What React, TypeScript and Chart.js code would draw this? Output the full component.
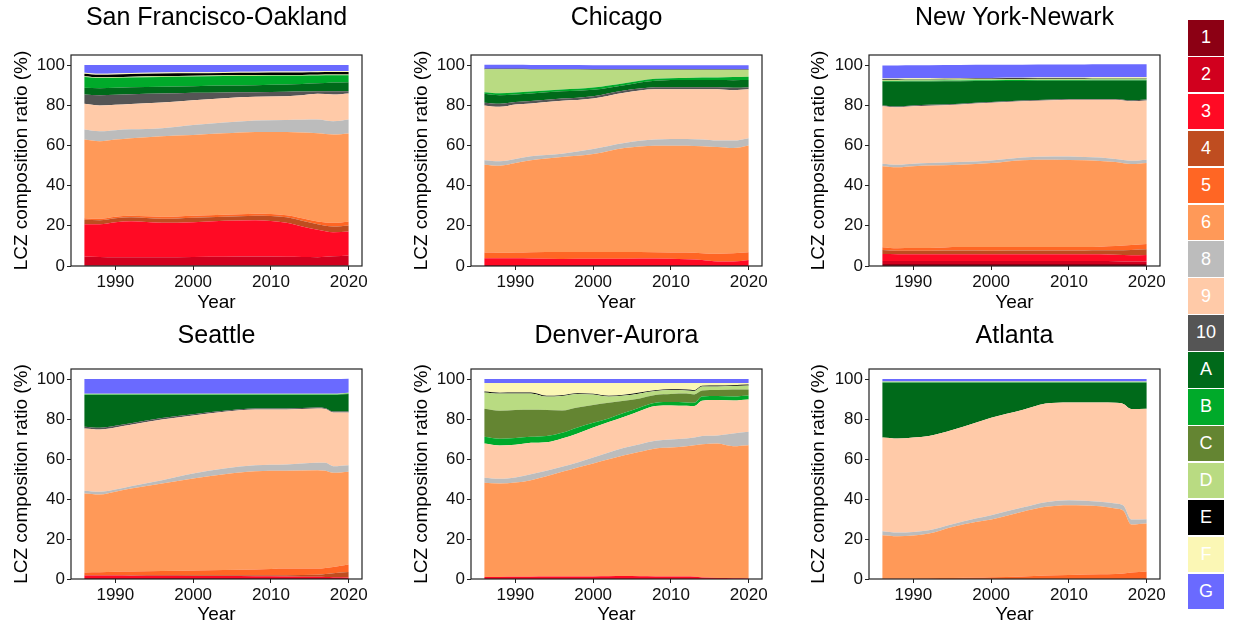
import React, { useEffect, useRef } from 'react';
import { Chart, registerables } from 'chart.js';

Chart.register(...registerables);

// ---------- LCZ classes ----------
const LCZ_LABELS = ['1', '2', '3', '4', '5', '6', '8', '9', '10', 'A', 'B', 'C', 'D', 'E', 'F', 'G'];
const LCZ_COLORS = ['#8c0014', '#d1001e', '#ff0a24', '#bf4d20', '#ff6624', '#ff9958', '#bcbcbc', '#ffcaa8', '#555555', '#006a1a', '#00aa2a', '#648532', '#b9db82', '#000000', '#fbf7b5', '#6a6aff'];
const X_TICKS = [1990, 2000, 2010, 2020];
const Y_TICKS = [0, 20, 40, 60, 80, 100];

// ---------- San Francisco-Oakland ----------
const SF_YEARS = [1986, 1988, 1990, 1992, 1996, 2000, 2004, 2008, 2012, 2014, 2016, 2018, 2020];
const SF_1 = [0.3, 0.3, 0.3, 0.3, 0.3, 0.3, 0.3, 0.3, 0.3, 0.3, 0.3, 0.3, 0.3];
const SF_2 = [4.4, 4.2, 4.0, 4.0, 4.0, 4.2, 4.3, 4.4, 4.3, 4.2, 4.1, 4.5, 4.9];
const SF_3 = [16.1, 16.3, 17.5, 18.0, 17.2, 17.3, 17.9, 18.1, 16.9, 15.2, 13.6, 12.0, 12.0];
const SF_4 = [2.2, 2.0, 2.0, 2.0, 2.0, 2.2, 2.0, 2.2, 2.7, 2.8, 2.8, 2.9, 3.0];
const SF_5 = [0.8, 0.7, 0.7, 0.7, 1.0, 1.0, 1.0, 1.0, 1.1, 1.3, 1.4, 1.8, 2.0];
const SF_6 = [39.1, 38.6, 38.4, 38.6, 40.1, 40.2, 40.5, 40.7, 41.4, 42.6, 43.8, 43.9, 43.7];
const SF_8 = [5.0, 4.9, 4.7, 4.4, 4.0, 5.0, 5.4, 5.7, 6.0, 6.4, 6.9, 6.6, 7.0];
const SF_9 = [12.8, 12.9, 12.6, 12.6, 12.8, 12.3, 12.1, 11.8, 11.8, 12.2, 12.8, 13.4, 13.0];
const SF_10 = [4.7, 5.1, 5.0, 4.9, 4.4, 3.7, 2.9, 2.3, 2.2, 1.8, 1.3, 1.6, 1.1];
const SF_A = [3.3, 3.5, 3.5, 3.4, 3.4, 3.3, 3.4, 3.5, 3.6, 3.8, 3.9, 4.3, 4.5];
const SF_B = [5.3, 5.0, 4.9, 4.9, 4.9, 4.8, 4.7, 4.6, 4.4, 4.1, 3.9, 3.6, 3.4];
const SF_D = [0.4, 0.4, 0.4, 0.4, 0.4, 0.4, 0.4, 0.4, 0.4, 0.4, 0.4, 0.4, 0.4];
const SF_E = [1.3, 1.3, 1.3, 1.3, 1.3, 1.2, 1.2, 1.2, 1.2, 1.2, 1.2, 1.2, 1.2];
const SF_F = [0.5, 0.5, 0.5, 0.5, 0.5, 0.5, 0.5, 0.5, 0.5, 0.5, 0.5, 0.5, 0.5];
const SF_G = [3.8, 4.3, 4.2, 4.0, 3.7, 3.6, 3.4, 3.3, 3.2, 3.2, 3.1, 3.0, 3.0];

// ---------- Chicago ----------
const CHI_YEARS = [1986, 1988, 1990, 1992, 1996, 2000, 2004, 2008, 2012, 2014, 2016, 2018, 2020];
const CHI_2 = [0.5, 0.5, 0.5, 0.5, 0.5, 0.5, 0.5, 0.5, 0.5, 0.5, 0.5, 0.5, 0.5];
const CHI_3 = [3.3, 3.3, 3.3, 3.2, 3.0, 3.1, 3.1, 3.2, 2.9, 2.5, 1.8, 1.8, 2.5];
const CHI_5 = [2.9, 2.8, 2.9, 3.2, 3.5, 3.4, 3.4, 3.2, 3.3, 3.4, 3.8, 4.0, 3.8];
const CHI_6 = [43.7, 43.3, 44.5, 45.7, 47.2, 48.7, 51.7, 53.0, 53.2, 53.2, 53.1, 52.4, 53.2];
const CHI_8 = [2.2, 2.2, 2.0, 2.0, 1.7, 2.5, 2.5, 3.0, 3.3, 3.3, 3.2, 3.7, 3.6];
const CHI_9 = [27.3, 27.1, 27.2, 26.3, 26.3, 25.2, 25.0, 25.0, 24.7, 25.0, 25.5, 25.1, 24.3];
const CHI_10 = [1.4, 1.5, 1.2, 1.2, 1.1, 1.1, 1.1, 1.0, 1.1, 1.1, 1.1, 1.2, 1.1];
const CHI_A = [4.4, 4.3, 3.8, 3.8, 3.6, 3.2, 2.7, 3.3, 3.5, 3.5, 3.5, 3.7, 3.5];
const CHI_B = [0.8, 1.0, 0.9, 0.9, 0.9, 1.1, 1.0, 1.0, 1.1, 1.3, 1.3, 1.6, 1.7];
const CHI_D = [11.4, 11.9, 11.6, 11.0, 10.0, 8.9, 6.7, 4.5, 4.1, 3.9, 3.9, 3.7, 3.5];
const CHI_E = [0.2, 0.2, 0.2, 0.2, 0.2, 0.2, 0.2, 0.2, 0.2, 0.2, 0.2, 0.2, 0.2];
const CHI_G = [2.0, 2.0, 2.0, 2.0, 2.0, 2.0, 2.0, 2.0, 2.0, 2.0, 2.0, 2.0, 2.0];

// ---------- New York-Newark ----------
const NY_YEARS = [1986, 1988, 1990, 1992, 1996, 2000, 2004, 2008, 2012, 2014, 2016, 2018, 2020];
const NY_1 = [1.0, 1.0, 1.0, 1.0, 1.0, 1.0, 1.0, 1.0, 1.0, 1.0, 1.0, 1.0, 1.0];
const NY_2 = [1.5, 1.5, 1.5, 1.5, 1.5, 1.5, 1.5, 1.5, 1.5, 1.5, 1.4, 1.2, 1.2];
const NY_3 = [3.5, 3.4, 3.4, 3.3, 3.3, 3.3, 3.4, 3.4, 3.4, 3.3, 3.2, 3.2, 3.3];
const NY_4 = [1.9, 1.7, 1.7, 1.8, 1.9, 1.8, 1.8, 1.8, 1.8, 2.0, 2.2, 2.6, 2.8];
const NY_5 = [1.4, 1.2, 1.3, 1.4, 1.8, 1.9, 1.7, 1.7, 1.7, 1.8, 2.1, 2.4, 2.7];
const NY_6 = [40.3, 40.3, 40.7, 41.0, 40.9, 41.7, 43.2, 43.5, 43.2, 42.7, 41.8, 40.3, 40.2];
const NY_8 = [1.3, 1.3, 1.3, 1.3, 1.3, 1.3, 1.4, 1.6, 1.7, 1.7, 1.6, 1.7, 1.7];
const NY_9 = [28.6, 28.6, 28.6, 28.5, 28.7, 28.7, 28.0, 28.0, 28.4, 28.7, 29.4, 29.6, 29.5];
const NY_10 = [0.4, 0.4, 0.4, 0.4, 0.4, 0.4, 0.4, 0.4, 0.4, 0.4, 0.4, 0.4, 0.4];
const NY_A = [11.8, 12.3, 11.9, 11.6, 11.1, 10.4, 9.7, 9.3, 9.1, 9.2, 9.2, 9.9, 9.5];
const NY_B = [0.4, 0.4, 0.4, 0.4, 0.4, 0.4, 0.4, 0.4, 0.4, 0.4, 0.4, 0.4, 0.4];
const NY_D = [0.6, 0.6, 0.6, 0.6, 0.6, 0.6, 0.6, 0.6, 0.6, 0.6, 0.6, 0.6, 0.6];
const NY_E = [0.3, 0.3, 0.3, 0.3, 0.3, 0.3, 0.3, 0.3, 0.3, 0.3, 0.3, 0.3, 0.3];
const NY_F = [0.3, 0.3, 0.3, 0.3, 0.3, 0.3, 0.3, 0.3, 0.3, 0.3, 0.3, 0.3, 0.3];
const NY_G = [6.5, 6.5, 6.5, 6.5, 6.5, 6.5, 6.5, 6.5, 6.5, 6.5, 6.5, 6.5, 6.5];

// ---------- Seattle ----------
const SEA_YEARS = [1986, 1988, 1990, 1992, 1996, 2000, 2004, 2008, 2012, 2016, 2017, 2018, 2020];
const SEA_2 = [0.5, 0.5, 0.5, 0.5, 0.5, 0.5, 0.5, 0.5, 0.5, 0.5, 0.5, 0.5, 0.5];
const SEA_3 = [1.2, 1.2, 1.2, 1.1, 1.1, 1.0, 1.0, 0.9, 0.8, 0.6, 0.5, 0.4, 0.3];
const SEA_4 = [0.3, 0.3, 0.3, 0.3, 0.4, 0.4, 0.4, 0.5, 0.6, 1.0, 1.5, 2.0, 2.7];
const SEA_5 = [1.3, 1.4, 1.6, 1.8, 2.0, 2.4, 2.6, 2.8, 3.3, 3.1, 3.0, 3.1, 3.7];
const SEA_6 = [39.4, 38.8, 40.0, 41.5, 43.7, 46.0, 47.9, 49.2, 48.9, 49.2, 48.6, 47.1, 46.4];
const SEA_8 = [1.4, 1.4, 1.1, 1.2, 1.7, 2.5, 2.9, 3.0, 3.2, 3.7, 4.0, 3.3, 3.3];
const SEA_9 = [31.2, 31.2, 31.1, 30.7, 30.4, 29.0, 28.3, 27.9, 27.5, 27.2, 26.9, 26.9, 26.4];
const SEA_10 = [0.8, 0.8, 0.8, 0.8, 0.7, 0.6, 0.5, 0.5, 0.5, 0.4, 0.4, 0.4, 0.4];
const SEA_A = [15.9, 16.4, 15.4, 14.1, 11.5, 9.6, 7.9, 6.7, 6.7, 6.3, 6.6, 8.3, 8.8];
const SEA_B = [0.2, 0.2, 0.2, 0.2, 0.2, 0.2, 0.2, 0.2, 0.2, 0.2, 0.2, 0.2, 0.2];
const SEA_D = [0.4, 0.4, 0.4, 0.4, 0.4, 0.4, 0.4, 0.4, 0.4, 0.4, 0.4, 0.4, 0.4];
const SEA_G = [7.4, 7.4, 7.4, 7.4, 7.4, 7.4, 7.4, 7.4, 7.4, 7.4, 7.4, 7.4, 7.0];

// ---------- Denver-Aurora ----------
const DEN_YEARS = [1986, 1988, 1990, 1992, 1994, 1996, 1998, 2000, 2002, 2004, 2006, 2008, 2010, 2012, 2013, 2014, 2016, 2018, 2020];
const DEN_3 = [1.0, 1.0, 1.1, 1.1, 1.2, 1.2, 1.3, 1.3, 1.4, 1.5, 1.4, 1.3, 1.3, 1.2, 1.1, 0.8, 0.5, 0.4, 0.3];
const DEN_6 = [47.1, 46.7, 47.1, 48.3, 50.2, 52.4, 54.5, 56.5, 58.5, 60.4, 62.2, 64.0, 64.5, 65.2, 65.8, 66.6, 67.3, 66.0, 66.6];
const DEN_8 = [2.5, 2.4, 2.6, 3.0, 2.7, 2.5, 2.5, 3.0, 3.4, 3.7, 3.8, 3.8, 4.0, 3.9, 3.9, 4.1, 4.0, 6.4, 6.7];
const DEN_9 = [17.2, 16.7, 16.3, 15.7, 14.3, 14.2, 14.5, 15.0, 15.2, 15.5, 16.6, 17.4, 17.0, 16.3, 15.7, 17.6, 17.7, 16.5, 16.2];
const DEN_B = [3.3, 3.3, 3.4, 3.0, 3.1, 2.8, 3.0, 2.3, 1.8, 2.0, 1.8, 1.6, 1.7, 1.7, 1.6, 2.1, 2.0, 1.9, 1.9];
const DEN_C = [14.0, 14.0, 14.0, 13.5, 13.0, 11.2, 10.0, 8.9, 7.8, 6.0, 4.5, 3.9, 4.0, 4.4, 4.2, 3.0, 3.0, 3.5, 3.1];
const DEN_D = [8.2, 8.6, 8.3, 8.2, 6.7, 7.2, 6.7, 5.2, 3.1, 2.6, 2.5, 2.0, 2.0, 1.6, 1.7, 2.0, 1.8, 1.8, 2.0];
const DEN_E = [0.4, 0.4, 0.4, 0.4, 0.4, 0.4, 0.4, 0.4, 0.4, 0.4, 0.4, 0.4, 0.4, 0.4, 0.4, 0.4, 0.4, 0.4, 0.4];
const DEN_F = [4.3, 4.9, 4.8, 4.8, 6.4, 6.1, 5.1, 5.4, 6.4, 5.9, 4.8, 3.6, 3.1, 3.3, 3.6, 1.4, 1.3, 1.1, 0.8];
const DEN_G = [2.0, 2.0, 2.0, 2.0, 2.0, 2.0, 2.0, 2.0, 2.0, 2.0, 2.0, 2.0, 2.0, 2.0, 2.0, 2.0, 2.0, 2.0, 2.0];

// ---------- Atlanta ----------
const ATL_YEARS = [1986, 1988, 1990, 1992, 1995, 1998, 2000, 2004, 2007, 2010, 2014, 2016, 2017, 2018, 2020];
const ATL_5 = [0.3, 0.3, 0.3, 0.4, 0.5, 0.7, 0.9, 1.3, 1.7, 2.0, 2.4, 2.5, 2.8, 3.3, 3.8];
const ATL_6 = [21.6, 21.1, 21.4, 22.3, 25.5, 27.8, 28.8, 32.3, 34.4, 34.9, 34.0, 32.7, 31.3, 23.9, 23.9];
const ATL_8 = [2.0, 1.8, 1.8, 1.7, 1.4, 1.7, 2.2, 2.1, 2.3, 2.5, 2.2, 2.5, 2.6, 2.5, 2.2];
const ATL_9 = [46.9, 47.1, 47.3, 47.1, 47.1, 47.9, 48.7, 48.8, 49.4, 48.9, 49.7, 50.4, 50.8, 55.3, 55.2];
const ATL_A = [27.3, 27.8, 27.3, 26.6, 23.6, 20.0, 17.5, 13.6, 10.3, 9.8, 9.8, 10.0, 10.6, 13.1, 13.0];
const ATL_B = [0.3, 0.3, 0.3, 0.3, 0.3, 0.3, 0.3, 0.3, 0.3, 0.3, 0.3, 0.3, 0.3, 0.3, 0.3];
const ATL_D = [0.3, 0.3, 0.3, 0.3, 0.3, 0.3, 0.3, 0.3, 0.3, 0.3, 0.3, 0.3, 0.3, 0.3, 0.3];
const ATL_G = [1.3, 1.3, 1.3, 1.3, 1.3, 1.3, 1.3, 1.3, 1.3, 1.3, 1.3, 1.3, 1.3, 1.3, 1.3];

type Series = [string, number[]];
type City = { title: string; years: number[]; series: Series[] };

const CITIES: City[] = [
  {
    title: 'San Francisco-Oakland', years: SF_YEARS,
    series: [['1', SF_1], ['2', SF_2], ['3', SF_3], ['4', SF_4], ['5', SF_5], ['6', SF_6], ['8', SF_8], ['9', SF_9], ['10', SF_10], ['A', SF_A], ['B', SF_B], ['D', SF_D], ['E', SF_E], ['F', SF_F], ['G', SF_G]],
  },
  {
    title: 'Chicago', years: CHI_YEARS,
    series: [['2', CHI_2], ['3', CHI_3], ['5', CHI_5], ['6', CHI_6], ['8', CHI_8], ['9', CHI_9], ['10', CHI_10], ['A', CHI_A], ['B', CHI_B], ['D', CHI_D], ['E', CHI_E], ['G', CHI_G]],
  },
  {
    title: 'New York-Newark', years: NY_YEARS,
    series: [['1', NY_1], ['2', NY_2], ['3', NY_3], ['4', NY_4], ['5', NY_5], ['6', NY_6], ['8', NY_8], ['9', NY_9], ['10', NY_10], ['A', NY_A], ['B', NY_B], ['D', NY_D], ['E', NY_E], ['F', NY_F], ['G', NY_G]],
  },
  {
    title: 'Seattle', years: SEA_YEARS,
    series: [['2', SEA_2], ['3', SEA_3], ['4', SEA_4], ['5', SEA_5], ['6', SEA_6], ['8', SEA_8], ['9', SEA_9], ['10', SEA_10], ['A', SEA_A], ['B', SEA_B], ['D', SEA_D], ['G', SEA_G]],
  },
  {
    title: 'Denver-Aurora', years: DEN_YEARS,
    series: [['3', DEN_3], ['6', DEN_6], ['8', DEN_8], ['9', DEN_9], ['B', DEN_B], ['C', DEN_C], ['D', DEN_D], ['E', DEN_E], ['F', DEN_F], ['G', DEN_G]],
  },
  {
    title: 'Atlanta', years: ATL_YEARS,
    series: [['5', ATL_5], ['6', ATL_6], ['8', ATL_8], ['9', ATL_9], ['A', ATL_A], ['B', ATL_B], ['D', ATL_D], ['G', ATL_G]],
  },
];

const FONT = '"Liberation Sans", Arial, Helvetica, sans-serif';

const COL_LEFT = [0, 400, 797];
const COL_YW = [71, 71, 72];
const COL_PADR = [18, 18, 17];
const ROWS = [
  { top: 0, h: 316, tTop: 3, tBot: 22, xh: 50, xtb: 1.6 },
  { top: 313, h: 314, tTop: 8, tBot: 18, xh: 48, xtb: 0.6 },
];

const framePlugin = {
  id: 'frame',
  afterDraw(chart: any) {
    const { ctx, chartArea: a } = chart;
    ctx.save();
    ctx.strokeStyle = '#222';
    ctx.lineWidth = 1.2;
    ctx.strokeRect(a.left, a.top, a.right - a.left, a.bottom - a.top);
    ctx.restore();
  },
};

function Panel({ city, idx }: { city: City; idx: number }) {
  const ref = useRef<HTMLCanvasElement>(null);
  const col = idx % 3;
  const row = ROWS[Math.floor(idx / 3)];
  const width = 380;
  useEffect(() => {
    if (!ref.current) return;
    const datasets = city.series.map(([key, arr], i) => {
      const color = LCZ_COLORS[LCZ_LABELS.indexOf(key)];
      return {
        label: key,
        data: city.years.map((yr, j) => ({ x: yr, y: arr[j] })),
        backgroundColor: color,
        borderColor: color,
        borderWidth: 0,
        pointRadius: 0,
        pointHoverRadius: 0,
        fill: i === 0 ? 'origin' : '-1',
        cubicInterpolationMode: 'monotone' as const,
      };
    });
    const chart = new Chart(ref.current, {
      type: 'line',
      data: { datasets: datasets as any },
      options: {
        animation: false,
        responsive: false,
        events: [],
        layout: { padding: { left: 0, right: COL_PADR[col], top: 0, bottom: 0 } },
        plugins: {
          legend: { display: false },
          tooltip: { enabled: false },
          title: {
            display: true,
            fullSize: false,
            text: city.title,
            color: '#000',
            font: { family: FONT, size: 25, weight: 'normal' as any, lineHeight: 1.2 },
            padding: { top: row.tTop, bottom: row.tBot },
          },
        },
        scales: {
          x: {
            type: 'linear',
            min: 1984.3,
            max: 2021.7,
            afterFit: (s: any) => { s.height = row.xh; },
            afterBuildTicks: (s: any) => { s.ticks = X_TICKS.map((v) => ({ value: v })); },
            grid: { drawOnChartArea: false, drawTicks: true, tickLength: 4, color: '#222', tickWidth: 1 },
            border: { display: false },
            ticks: {
              color: '#111',
              font: { family: FONT, size: 17 },
              padding: 2,
              maxRotation: 0,
              autoSkip: false,
              callback: (v: any) => String(v),
            },
            title: {
              display: true,
              text: 'Year',
              color: '#000',
              font: { family: FONT, size: 19 },
              padding: { top: 0, bottom: row.xtb },
            },
          },
          y: {
            stacked: true,
            min: 0,
            max: 105,
            afterFit: (s: any) => { s.width = COL_YW[col]; },
            afterBuildTicks: (s: any) => { s.ticks = Y_TICKS.map((v) => ({ value: v })); },
            grid: { drawOnChartArea: false, drawTicks: true, tickLength: 4, color: '#222', tickWidth: 1 },
            border: { display: false },
            ticks: {
              color: '#111',
              font: { family: FONT, size: 17 },
              padding: 2,
              autoSkip: false,
              callback: (v: any) => String(v),
            },
            title: {
              display: true,
              text: 'LCZ composition ratio (%)',
              color: '#000',
              font: { family: FONT, size: 19 },
              padding: { top: 10, bottom: 0 },
            },
          },
        },
      },
      plugins: [framePlugin],
    });
    return () => chart.destroy();
  }, []);
  return (
    <canvas
      ref={ref}
      width={width}
      height={row.h}
      style={{ position: 'absolute', left: COL_LEFT[col], top: row.top, width, height: row.h }}
    />
  );
}

function LegendBar() {
  const top0 = 20;
  const pitch = 36.9;
  return (
    <>
      {LCZ_LABELS.map((lab, i) => (
        <div
          key={lab}
          style={{
            position: 'absolute',
            left: 1188,
            top: top0 + i * pitch,
            width: 36,
            height: pitch - 1.4,
            background: LCZ_COLORS[i],
            color: '#fff',
            fontFamily: FONT,
            fontSize: 18,
            display: 'flex',
            alignItems: 'center',
            justifyContent: 'center',
          }}
        >
          {lab}
        </div>
      ))}
    </>
  );
}

export default function App() {
  return (
    <div style={{ position: 'absolute', left: 0, top: 0, width: 1235, height: 627, background: '#fff', overflow: 'hidden' }}>
      {CITIES.map((c, i) => (
        <Panel key={c.title} city={c} idx={i} />
      ))}
      <LegendBar />
    </div>
  );
}
